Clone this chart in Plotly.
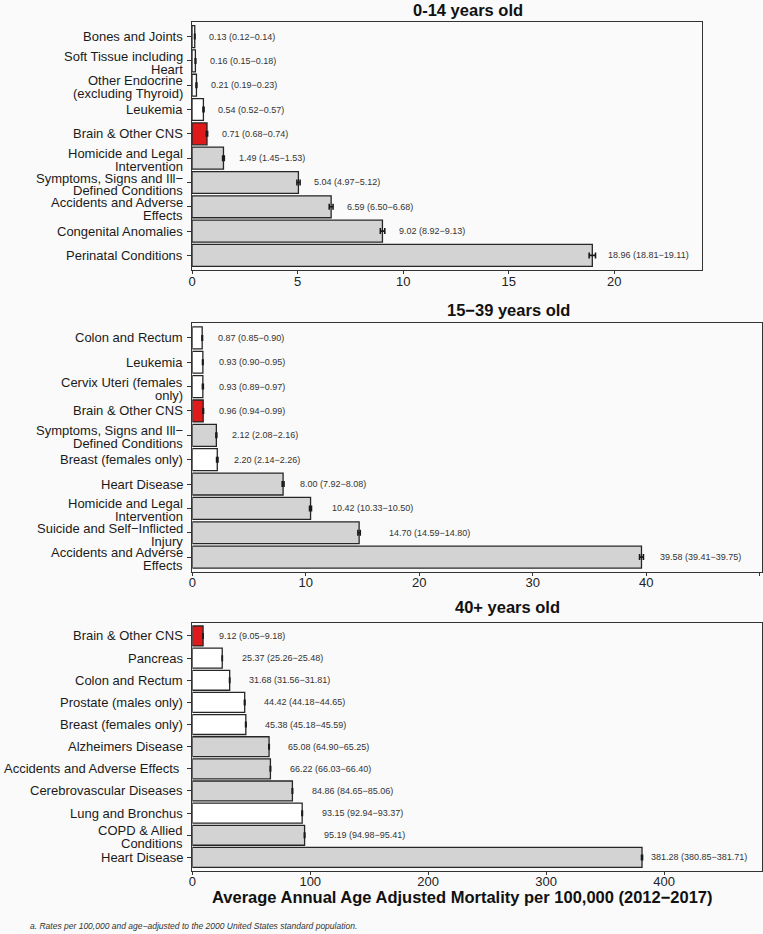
import plotly.graph_objects as go

# ---------------- data ----------------
p1_causes = ["Bones and Joints", "Soft Tissue including<br>Heart", "Other Endocrine<br>(excluding Thyroid)",
             "Leukemia", "Brain & Other CNS", "Homicide and Legal<br>Intervention",
             "Symptoms, Signs and Ill−<br>Defined Conditions", "Accidents and Adverse<br>Effects",
             "Congenital Anomalies", "Perinatal Conditions"]
p1_rate = [0.13, 0.16, 0.21, 0.54, 0.71, 1.49, 5.04, 6.59, 9.02, 18.96]
p1_low = [0.12, 0.15, 0.19, 0.52, 0.68, 1.45, 4.97, 6.50, 8.92, 18.81]
p1_high = [0.14, 0.18, 0.23, 0.57, 0.74, 1.53, 5.12, 6.68, 9.13, 19.11]
p1_group = ["cancer", "cancer", "cancer", "cancer", "brain", "other", "other", "other", "other", "other"]

p2_causes = ["Colon and Rectum", "Leukemia", "Cervix Uteri (females<br>only)", "Brain & Other CNS",
             "Symptoms, Signs and Ill−<br>Defined Conditions", "Breast (females only)", "Heart Disease",
             "Homicide and Legal<br>Intervention", "Suicide and Self−Inflicted<br>Injury",
             "Accidents and Adverse<br>Effects"]
p2_rate = [0.87, 0.93, 0.93, 0.96, 2.12, 2.20, 8.00, 10.42, 14.70, 39.58]
p2_low = [0.85, 0.90, 0.89, 0.94, 2.08, 2.14, 7.92, 10.33, 14.59, 39.41]
p2_high = [0.90, 0.95, 0.97, 0.99, 2.16, 2.26, 8.08, 10.50, 14.80, 39.75]
p2_group = ["cancer", "cancer", "cancer", "brain", "other", "cancer", "other", "other", "other", "other"]

p3_causes = ["Brain & Other CNS", "Pancreas", "Colon and Rectum", "Prostate (males only)",
             "Breast (females only)", "Alzheimers Disease", "Accidents and Adverse Effects ",
             "Cerebrovascular Diseases", "Lung and Bronchus", "COPD & Allied<br>Conditions", "Heart Disease"]
p3_rate = [9.12, 25.37, 31.68, 44.42, 45.38, 65.08, 66.22, 84.86, 93.15, 95.19, 381.28]
p3_low = [9.05, 25.26, 31.56, 44.18, 45.18, 64.90, 66.03, 84.65, 92.94, 94.98, 380.85]
p3_high = [9.18, 25.48, 31.81, 44.65, 45.59, 65.25, 66.40, 85.06, 93.37, 95.41, 381.71]
p3_group = ["brain", "cancer", "cancer", "cancer", "cancer", "other", "other", "other", "cancer", "other", "other"]

panel_titles = ["0-14 years old", "15−39 years old", "40+ years old"]
x_tick_step = [5, 10, 100]
x_axis_title = "Average Annual Age Adjusted Mortality per 100,000 (2012−2017)"
footnote = "a. Rates per 100,000 and age−adjusted to the 2000 United States standard population."

# ---------------- styling / layout ----------------
W, H = 763, 934
FONT = "Liberation Sans, Arial, Helvetica, sans-serif"
BG = "#fafafa"
fill_map = {"cancer": "#ffffff", "brain": "#e0191b", "other": "#d3d3d3"}

# plot-area pixel boxes: (left, right, top, bottom), x-range max
panel_box = [(189, 702, 22, 270, 24.17),
             (189.3, 762, 323.3, 571.7, 50.2),
             (189.3, 762, 622.7, 870.7, 483)]
title_pos = [(466, 10), (507, 310), (506, 607)]
label_shift = [[12.3] * 9 + [10.3],
               [13.6] * 7 + [18.3, 26.7, 14.2],
               [13.8] + [17.2] * 9 + [6.7]]
LINE_H = 12.8      # line spacing of wrapped category labels
WRAP_DROP = 2      # wrapped labels sit slightly below their tick

panels = [(p1_causes, p1_rate, p1_low, p1_high, p1_group),
          (p2_causes, p2_rate, p2_low, p2_high, p2_group),
          (p3_causes, p3_rate, p3_low, p3_high, p3_group)]

fig = go.Figure()
annotations = []
layout_axes = {}

for i, (causes, rate, low, high, group) in enumerate(panels):
    sfx = "" if i == 0 else str(i + 1)
    xa, ya = "x" + sfx, "y" + sfx
    fig.add_trace(go.Bar(
        y=causes, x=rate, orientation="h", xaxis=xa, yaxis=ya,
        width=0.9,
        marker=dict(color=[fill_map[g] for g in group], line=dict(color="#262626", width=1.3)),
        error_x=dict(type="data", symmetric=False,
                     array=[h - r for h, r in zip(high, rate)],
                     arrayminus=[r - l for r, l in zip(rate, low)],
                     color="#1a1a1a", thickness=1.6, width=3),
        showlegend=False, hoverinfo="skip",
    ))
    for j, c in enumerate(causes):
        annotations.append(dict(
            x=high[j], y=c, xref=xa, yref=ya, xanchor="left", yanchor="middle",
            xshift=label_shift[i][j], showarrow=False,
            text=f"{rate[j]:.2f} ({low[j]:.2f}−{high[j]:.2f})",
            font=dict(family=FONT, size=9, color="#333333"),
        ))
        # category label, one annotation per line for tight line spacing
        lines = c.split("<br>")
        nl = len(lines)
        for k, ln in enumerate(lines):
            annotations.append(dict(
                x=0, y=c, xref=xa + " domain", yref=ya, xanchor="right", yanchor="middle",
                xshift=-7.5,
                yshift=((nl - 1) / 2 - k) * LINE_H - (WRAP_DROP if nl > 1 else 0),
                showarrow=False,
                text=ln, font=dict(family=FONT, size=13, color="#1a1a1a"),
            ))
    l, r, t, b, xmax = panel_box[i]
    n = len(causes)
    layout_axes["xaxis" + sfx] = dict(
        domain=[l / W, r / W], anchor=ya, range=[0, xmax],
        dtick=x_tick_step[i], tick0=0, showgrid=False, zeroline=False,
        showline=True, mirror=True, linecolor="#333333", linewidth=1,
        ticks="outside", ticklen=3, tickcolor="#333333", ticklabelstandoff=-4,
        tickfont=dict(family=FONT, size=13, color="#222222"),
    )
    layout_axes["yaxis" + sfx] = dict(
        domain=[1 - b / H, 1 - t / H], anchor=xa, type="category",
        categoryorder="array", categoryarray=causes,
        range=[n - 1 + 0.6, -0.6], showgrid=False, zeroline=False,
        showline=True, mirror=True, linecolor="#333333", linewidth=1,
        ticks="outside", ticklen=4, tickcolor="#333333", showticklabels=False,
    )
    tx, ty = title_pos[i]
    annotations.append(dict(
        x=tx / W, y=1 - ty / H, xref="paper", yref="paper", xanchor="center", yanchor="middle",
        showarrow=False, text=f"<b>{panel_titles[i]}</b>",
        font=dict(family=FONT, size=16.5, color="#111111"),
    ))

annotations.append(dict(
    x=461 / W, y=1 - 897 / H, xref="paper", yref="paper", xanchor="center", yanchor="middle",
    showarrow=False, text=f"<b>{x_axis_title}</b>",
    font=dict(family=FONT, size=16.5, color="#111111"),
))
annotations.append(dict(
    x=24 / W, y=1 - 926 / H, xref="paper", yref="paper", xanchor="left", yanchor="middle",
    showarrow=False, text=f"<i>{footnote}</i>",
    font=dict(family=FONT, size=8.5, color="#333333"),
))

fig.update_layout(
    width=W, height=H, margin=dict(l=0, r=0, t=0, b=0),
    paper_bgcolor=BG, plot_bgcolor=BG,
    annotations=annotations, bargap=0.1,
    **layout_axes,
)

fig.write_html("out.html", config={"displayModeBar": False},
               post_script="document.body.style.margin='0';document.body.style.background='" + BG + "';")
